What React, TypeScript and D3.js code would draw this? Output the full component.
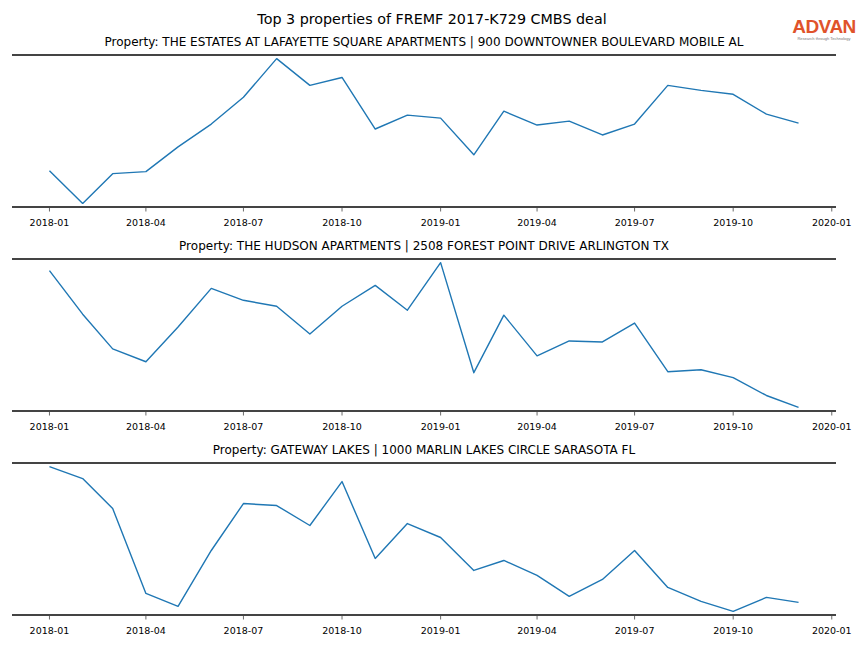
import React from "react";
import * as d3 from "d3";

const months: string[] = [
  "2018-01","2018-02","2018-03","2018-04","2018-05","2018-06","2018-07","2018-08","2018-09","2018-10","2018-11","2018-12",
  "2019-01","2019-02","2019-03","2019-04","2019-05","2019-06","2019-07","2019-08","2019-09","2019-10","2019-11","2019-12",
];

const propertyNames: string[] = [
  "Property: THE ESTATES AT LAFAYETTE SQUARE APARTMENTS | 900 DOWNTOWNER BOULEVARD MOBILE AL",
  "Property: THE HUDSON APARTMENTS | 2508 FOREST POINT DRIVE ARLINGTON TX",
  "Property: GATEWAY LAKES | 1000 MARLIN LAKES CIRCLE SARASOTA FL",
];

const visits1: number[] = [390, 60, 360, 380, 630, 860, 1130, 1520, 1250, 1330, 810, 950, 920, 550, 990, 850, 890, 750, 860, 1250, 1200, 1160, 960, 870];
const visits2: number[] = [1450, 1010, 660, 530, 880, 1270, 1150, 1090, 810, 1090, 1300, 1050, 1530, 420, 1000, 590, 740, 730, 920, 430, 450, 370, 190, 70];
const visits3: number[] = [1530, 1410, 1110, 260, 130, 690, 1160, 1140, 940, 1380, 610, 960, 820, 490, 590, 440, 230, 400, 690, 320, 180, 80, 220, 170];

const tickLabels: string[] = ["2018-01","2018-04","2018-07","2018-10","2019-01","2019-04","2019-07","2019-10","2020-01"];

const chartTitle = "Top 3 properties of FREMF 2017-K729 CMBS deal";

const W = 864;
const H = 648;
const X0 = 12;
const X1 = 836;
const panelTops = [55, 259, 463];
const panelH = 152;
const FONT = "DejaVu Sans, Liberation Sans, sans-serif";

const parse = d3.utcParse("%Y-%m");

export default function App() {
  const dates = months.map((m) => parse(m) as Date);
  const t0 = +dates[0];
  const t1 = +dates[dates.length - 1];
  const pad = (t1 - t0) * 0.05;
  const x = d3.scaleUtc().domain([new Date(t0 - pad), new Date(t1 + pad)]).range([X0, X1]);
  const series = [visits1, visits2, visits3];
  const tickDates = tickLabels.map((t) => parse(t) as Date);

  return (
    <svg width={W} height={H} style={{ position: "absolute", left: 0, top: 0, background: "#fff" }} fontFamily={FONT}>
      <rect x={0} y={0} width={W} height={H} fill="#fff" />
      <text x={432} y={24} textAnchor="middle" fontSize={14.3} fill="#000">{chartTitle}</text>
      <g>
        <text x={824} y={33} textAnchor="middle" fontSize={19} fontWeight="bold" fill="#e0532b" fontFamily="Liberation Sans, sans-serif" letterSpacing={-0.5}>ADVAN</text>
        <text x={824} y={40} textAnchor="middle" fontSize={4} fill="#777" fontFamily="Liberation Sans, sans-serif">Research through Technology</text>
      </g>
      {series.map((vals, i) => {
        const top = panelTops[i];
        const bottom = top + panelH;
        const [mn, mx] = d3.extent(vals) as [number, number];
        const m = (mx - mn) * 0.025;
        const y = d3.scaleLinear().domain([mn - m, mx + m]).range([bottom, top]);
        const line = d3.line<number>().x((_, j) => x(dates[j])).y((v) => y(v));
        return (
          <g key={i}>
            <text x={424} y={top - 9} textAnchor="middle" fontSize={12} fill="#000">{propertyNames[i]}</text>
            <path d={line(vals) || ""} fill="none" stroke="#1f77b4" strokeWidth={1.4} strokeLinejoin="round" />
            <line x1={X0} x2={X1} y1={top} y2={top} stroke="#444" strokeWidth={1.8} />
            <line x1={X0} x2={X1} y1={bottom} y2={bottom} stroke="#444" strokeWidth={1.8} />
            {tickDates.map((d, k) => (
              <g key={k} transform={`translate(${x(d)},${bottom})`}>
                <line y1={1} y2={4.5} stroke="#444" strokeWidth={0.8} />
                <text y={19} textAnchor="middle" fontSize={9.5} fill="#000">{tickLabels[k]}</text>
              </g>
            ))}
          </g>
        );
      })}
    </svg>
  );
}
